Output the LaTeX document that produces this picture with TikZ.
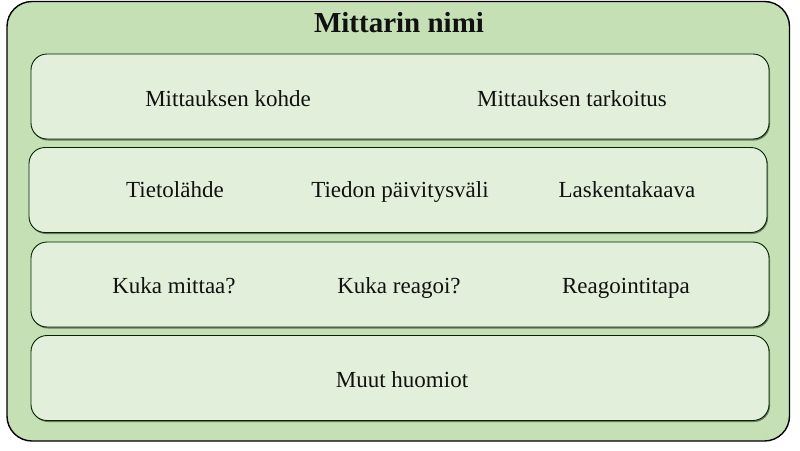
\documentclass[tikz,border=0pt]{standalone}
\usepackage{fontspec}
\setmainfont{Liberation Serif}
\usetikzlibrary{shadows}
\definecolor{outerfill}{HTML}{C5E0B4}
\definecolor{innerfill}{HTML}{E2EFDA}
\definecolor{shadowcol}{HTML}{6B7B5F}
\definecolor{txtcol}{HTML}{111111}
\tikzset{
  outerbox/.style={draw=black, line width=1.4pt, fill=outerfill, rounded corners=25pt},
  rowbox/.style={draw=black!85!green, line width=0.9pt, fill=innerfill, rounded corners=16pt,
    minimum width=738pt, minimum height=85pt, inner sep=0pt,
    drop shadow={shadow xshift=1pt, shadow yshift=-1.5pt, fill=shadowcol, opacity=1}},
  lbl/.style={anchor=base, inner sep=0pt, text=txtcol, font=\fontsize{23}{27}\selectfont},
  ttl/.style={anchor=base, inner sep=0pt, text=txtcol, font=\fontsize{29}{34}\selectfont\bfseries}
}
\begin{document}
\begin{tikzpicture}[x=1pt,y=-1pt]
\useasboundingbox (0,0) rectangle (800,450);
\node[outerbox, minimum width=782.5pt, minimum height=439.5pt, inner sep=0pt] (outer) at (398.25,221.25) {};
\node[ttl] (title) at (399,32) {Mittarin nimi};
\node[rowbox] (r1) at (400,96.5) {};
\node[rowbox] (r2) at (398,190) {};
\node[rowbox] (r3) at (400,284.5) {};
\node[rowbox] (r4) at (400,378) {};
\node[lbl] (kohde) at (228,106) {Mittauksen kohde};
\node[lbl] (tarkoitus) at (572,106) {Mittauksen tarkoitus};
\node[lbl] (lahde) at (175,197) {Tietolähde};
\node[lbl] (vali) at (400,197) {Tiedon päivitysväli};
\node[lbl] (kaava) at (627,197) {Laskentakaava};
\node[lbl] (mittaa) at (174,293) {Kuka mittaa?};
\node[lbl] (reagoi) at (399,293) {Kuka reagoi?};
\node[lbl] (tapa) at (626,293) {Reagointitapa};
\node[lbl] (muut) at (402,387) {Muut huomiot};
\end{tikzpicture}
\end{document}
